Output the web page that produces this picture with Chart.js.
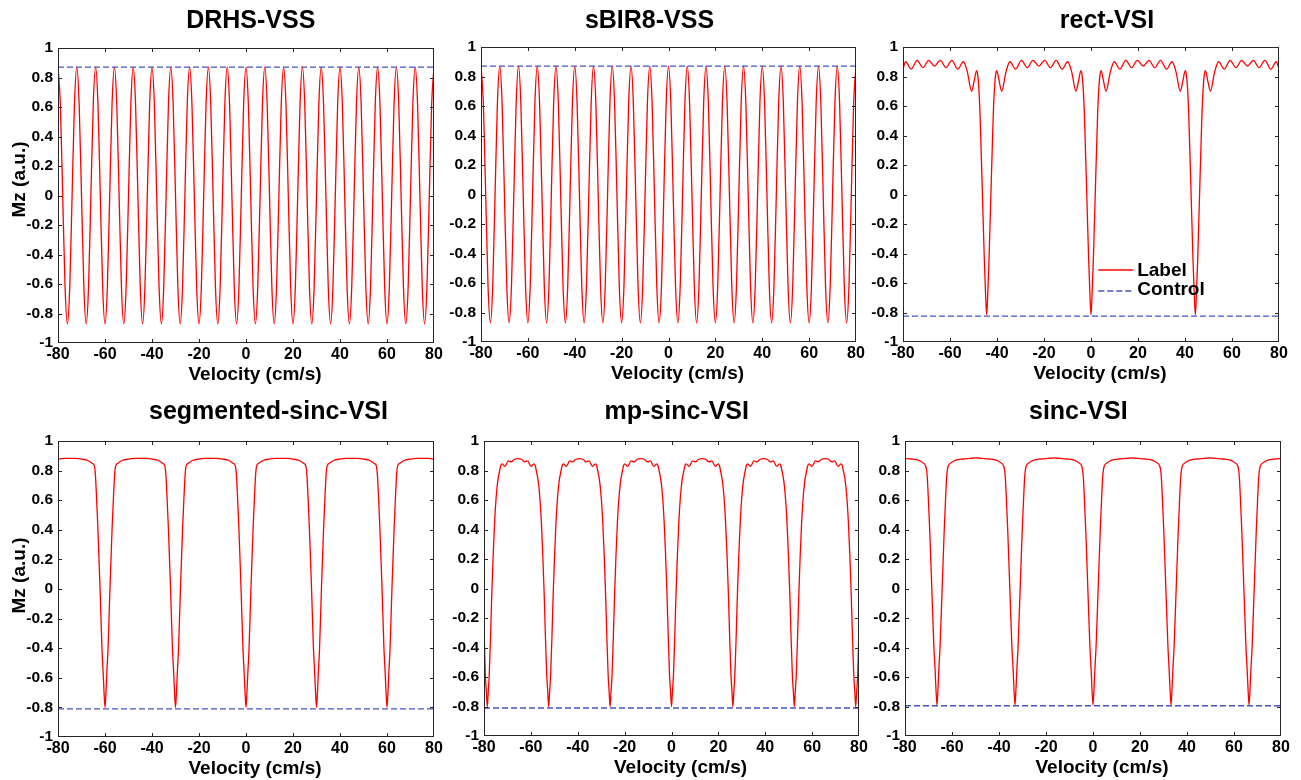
<!DOCTYPE html>
<html><head><meta charset="utf-8">
<script src="https://cdn.jsdelivr.net/npm/chart.js@4.4.1/dist/chart.umd.min.js"></script>
<style>
html,body{margin:0;padding:0;background:#fff;width:1301px;height:780px;overflow:hidden;position:relative;}
canvas{position:absolute;}
</style></head><body>
<canvas id="c1"></canvas><canvas id="c2"></canvas><canvas id="c3"></canvas>
<canvas id="c4"></canvas><canvas id="c5"></canvas><canvas id="c6"></canvas>
<script>
// ---------------- text ----------------
const panelTitles = ['DRHS-VSS', 'sBIR8-VSS', 'rect-VSI', 'segmented-sinc-VSI', 'mp-sinc-VSI', 'sinc-VSI'];
const xAxisTitle = 'Velocity (cm/s)';
const yAxisTitle = 'Mz (a.u.)';
const seriesNames = ['Label', 'Control'];
const xTickValues = [-80, -60, -40, -20, 0, 20, 40, 60, 80];
const yTickValues = [-1, -0.8, -0.6, -0.4, -0.2, 0, 0.2, 0.4, 0.6, 0.8, 1];

// ---------------- data ----------------
const controlVelocity = [-80, 80];

const vssVelocity = [
-80,-79,-78,-77,-76,-75,-74,-73,-72,-71,-70,-69,-68,-67,-66,-65,-64,-63,-62,-61,
-60,-59,-58,-57,-56,-55,-54,-53,-52,-51,-50,-49,-48,-47,-46,-45,-44,-43,-42,-41,
-40,-39,-38,-37,-36,-35,-34,-33,-32,-31,-30,-29,-28,-27,-26,-25,-24,-23,-22,-21,
-20,-19,-18,-17,-16,-15,-14,-13,-12,-11,-10,-9,-8,-7,-6,-5,-4,-3,-2,-1,
0,1,2,3,4,5,6,7,8,9,10,11,12,13,14,15,16,17,18,19,
20,21,22,23,24,25,26,27,28,29,30,31,32,33,34,35,36,37,38,39,
40,41,42,43,44,45,46,47,48,49,50,51,52,53,54,55,56,57,58,59,
60,61,62,63,64,65,66,67,68,69,70,71,72,73,74,75,76,77,78,79,
80];

const drhsLabel = [
0.87,0.62,0,-0.62,-0.87,-0.62,0,0.62,0.87,0.62,0,-0.62,-0.87,-0.62,0,0.62,
0.87,0.62,0,-0.62,-0.87,-0.62,0,0.62,0.87,0.62,0,-0.62,-0.87,-0.62,0,0.62,
0.87,0.62,0,-0.62,-0.87,-0.62,0,0.62,0.87,0.62,0,-0.62,-0.87,-0.62,0,0.62,
0.87,0.62,0,-0.62,-0.87,-0.62,0,0.62,0.87,0.62,0,-0.62,-0.87,-0.62,0,0.62,
0.87,0.62,0,-0.62,-0.87,-0.62,0,0.62,0.87,0.62,0,-0.62,-0.87,-0.62,0,0.62,
0.87,0.62,0,-0.62,-0.87,-0.62,0,0.62,0.87,0.62,0,-0.62,-0.87,-0.62,0,0.62,
0.87,0.62,0,-0.62,-0.87,-0.62,0,0.62,0.87,0.62,0,-0.62,-0.87,-0.62,0,0.62,
0.87,0.62,0,-0.62,-0.87,-0.62,0,0.62,0.87,0.62,0,-0.62,-0.87,-0.62,0,0.62,
0.87,0.62,0,-0.62,-0.87,-0.62,0,0.62,0.87,0.62,0,-0.62,-0.87,-0.62,0,0.62,
0.87,0.62,0,-0.62,-0.87,-0.62,0,0.62,0.87,0.62,0,-0.62,-0.87,-0.62,0,0.62,
0.87];
const drhsControl = [0.87, 0.87];

const sbirLabel = [
0.87,0.62,0,-0.62,-0.87,-0.62,0,0.62,0.87,0.62,0,-0.62,-0.87,-0.62,0,0.62,
0.87,0.62,0,-0.62,-0.87,-0.62,0,0.62,0.87,0.62,0,-0.62,-0.87,-0.62,0,0.62,
0.87,0.62,0,-0.62,-0.87,-0.62,0,0.62,0.87,0.62,0,-0.62,-0.87,-0.62,0,0.62,
0.87,0.62,0,-0.62,-0.87,-0.62,0,0.62,0.87,0.62,0,-0.62,-0.87,-0.62,0,0.62,
0.87,0.62,0,-0.62,-0.87,-0.62,0,0.62,0.87,0.62,0,-0.62,-0.87,-0.62,0,0.62,
0.87,0.62,0,-0.62,-0.87,-0.62,0,0.62,0.87,0.62,0,-0.62,-0.87,-0.62,0,0.62,
0.87,0.62,0,-0.62,-0.87,-0.62,0,0.62,0.87,0.62,0,-0.62,-0.87,-0.62,0,0.62,
0.87,0.62,0,-0.62,-0.87,-0.62,0,0.62,0.87,0.62,0,-0.62,-0.87,-0.62,0,0.62,
0.87,0.62,0,-0.62,-0.87,-0.62,0,0.62,0.87,0.62,0,-0.62,-0.87,-0.62,0,0.62,
0.87,0.62,0,-0.62,-0.87,-0.62,0,0.62,0.87,0.62,0,-0.62,-0.87,-0.62,0,0.62,
0.87];
const sbirControl = [0.87, 0.87];

const rectVelocity = [
-80,-78.9,-76.5,-74.0,-71.5,-69.1,-66.6,
-64.1,-61.7,-59.2,-56.7,-54.3,-52.6,-50.8,-49.7,-48.7,-48.3,-47.8,-47.3,-46.9,-46.2,-45.4,-44.9,-44.4,
-43.9,-43.4,-42.6,-41.9,-41.5,-41.0,-40.5,-40.1,-39.1,-38.0,-36.2,-34.5,-32.1,-29.6,-27.1,-24.7,-22.2,
-19.7,-17.3,-14.8,-12.3,-9.9,-8.2,-6.4,-5.3,-4.3,-3.9,-3.4,-2.9,-2.5,-1.8,-1.0,-0.5,0,
0.5,1.0,1.8,2.5,2.9,3.4,3.9,4.3,5.3,6.4,8.2,9.9,12.3,14.8,17.3,19.7,22.2,
24.7,27.1,29.6,32.1,34.5,36.2,38.0,39.1,40.1,40.5,41.0,41.5,41.9,42.6,43.4,43.9,44.4,
44.9,45.4,46.2,46.9,47.3,47.8,48.3,48.7,49.7,50.8,52.6,54.3,56.7,59.2,61.7,64.1,66.6,
69.1,71.5,74.0,76.5,78.9,80];
const rectLabel = [
0.85,0.90,0.85,0.91,0.86,0.91,0.87,
0.91,0.86,0.91,0.85,0.90,0.83,0.70,0.77,0.84,0.82,0.74,0.58,0.38,0.00,-0.44,-0.66,-0.815,
-0.66,-0.44,0.00,0.38,0.58,0.74,0.82,0.84,0.77,0.70,0.83,0.90,0.85,0.91,0.86,0.91,0.87,
0.91,0.86,0.91,0.85,0.90,0.83,0.70,0.77,0.84,0.82,0.74,0.58,0.38,0.00,-0.44,-0.66,-0.815,
-0.66,-0.44,0.00,0.38,0.58,0.74,0.82,0.84,0.77,0.70,0.83,0.90,0.85,0.91,0.86,0.91,0.87,
0.91,0.86,0.91,0.85,0.90,0.83,0.70,0.77,0.84,0.82,0.74,0.58,0.38,0.00,-0.44,-0.66,-0.815,
-0.66,-0.44,0.00,0.38,0.58,0.74,0.82,0.84,0.77,0.70,0.83,0.90,0.85,0.91,0.86,0.91,0.87,
0.91,0.86,0.91,0.85,0.90,0.85];
const rectControl = [-0.825, -0.825];

const segVelocity = [
-80,-77.5,-75,-72.5,-70,-67.5,-65.5,-64.6,-64.3,-64.0,-63.6,-63.0,-62.1,-61.3,-60.8,-60.4,-60,
-59.6,-59.2,-58.7,-57.9,-57.0,-56.4,-56.0,-55.7,-55.4,-54.5,-52.5,-50.0,-47.5,-45,
-42.5,-40,-37.5,-35.5,-34.6,-34.3,-34.0,-33.6,-33.0,-32.1,-31.3,-30.8,-30.4,-30,
-29.6,-29.2,-28.7,-27.9,-27.0,-26.4,-26.0,-25.7,-25.4,-24.5,-22.5,-20,-17.5,-15,
-12.5,-10,-7.5,-5.5,-4.6,-4.3,-4.0,-3.6,-3.0,-2.1,-1.3,-0.8,-0.4,0,
0.4,0.8,1.3,2.1,3.0,3.6,4.0,4.3,4.6,5.5,7.5,10,12.5,15,
17.5,20,22.5,24.5,25.4,25.7,26.0,26.4,27.0,27.9,28.7,29.2,29.6,30,
30.4,30.8,31.3,32.1,33.0,33.6,34.0,34.3,34.6,35.5,37.5,40,42.5,45,
47.5,50,52.5,54.5,55.4,55.7,56.0,56.4,57.0,57.9,58.7,59.2,59.6,60,
60.4,60.8,61.3,62.1,63.0,63.6,64.0,64.3,64.6,65.5,67.5,70,72.5,75,77.5,80];
const segLabel = [
0.878,0.882,0.883,0.882,0.878,0.87,0.85,0.835,0.81,0.75,0.62,0.40,0.00,-0.40,-0.56,-0.70,-0.80,
-0.70,-0.56,-0.40,0.00,0.40,0.62,0.75,0.81,0.835,0.85,0.87,0.878,0.882,0.883,
0.882,0.878,0.87,0.85,0.835,0.81,0.75,0.62,0.40,0.00,-0.40,-0.56,-0.70,-0.80,
-0.70,-0.56,-0.40,0.00,0.40,0.62,0.75,0.81,0.835,0.85,0.87,0.878,0.882,0.883,
0.882,0.878,0.87,0.85,0.835,0.81,0.75,0.62,0.40,0.00,-0.40,-0.56,-0.70,-0.80,
-0.70,-0.56,-0.40,0.00,0.40,0.62,0.75,0.81,0.835,0.85,0.87,0.878,0.882,0.883,
0.882,0.878,0.87,0.85,0.835,0.81,0.75,0.62,0.40,0.00,-0.40,-0.56,-0.70,-0.80,
-0.70,-0.56,-0.40,0.00,0.40,0.62,0.75,0.81,0.835,0.85,0.87,0.878,0.882,0.883,
0.882,0.878,0.87,0.85,0.835,0.81,0.75,0.62,0.40,0.00,-0.40,-0.56,-0.70,-0.80,
-0.70,-0.56,-0.40,0.00,0.40,0.62,0.75,0.81,0.835,0.85,0.87,0.878,0.882,0.883,0.882,0.878];
const segControl = [-0.81, -0.81];

const mpVelocity = [
-80,-79.45,-79.0,-78.6,
-78.2,-77.75,-77.2,-76.7,-76.1,-75.5,-74.9,-74.2,-73.3,-72.8,-72.3,-71.1,-69.6,-68.4,-67.0,-65.5,
-64.0,-62.6,-61.4,-59.9,-58.7,-58.2,-57.7,-56.8,-56.1,-55.5,-54.9,-54.3,-53.8,-53.25,-52.8,-52.4,
-52.0,-51.55,-51.0,-50.5,-49.9,-49.3,-48.7,-48.0,-47.1,-46.6,-46.1,-44.9,-43.4,-42.2,-40.8,-39.3,
-37.8,-36.4,-35.2,-33.7,-32.5,-32.0,-31.5,-30.6,-29.9,-29.3,-28.7,-28.1,-27.6,-27.05,-26.6,-26.2,
-25.8,-25.35,-24.8,-24.3,-23.7,-23.1,-22.5,-21.8,-20.9,-20.4,-19.9,-18.7,-17.2,-16.0,-14.6,-13.1,
-11.6,-10.2,-9.0,-7.5,-6.3,-5.8,-5.3,-4.4,-3.7,-3.1,-2.5,-1.9,-1.4,-0.85,-0.4,0,
0.4,0.85,1.4,1.9,2.5,3.1,3.7,4.4,5.3,5.8,6.3,7.5,9.0,10.2,11.6,13.1,
14.6,16.0,17.2,18.7,19.9,20.4,20.9,21.8,22.5,23.1,23.7,24.3,24.8,25.35,25.8,26.2,
26.6,27.05,27.6,28.1,28.7,29.3,29.9,30.6,31.5,32.0,32.5,33.7,35.2,36.4,37.8,39.3,
40.8,42.2,43.4,44.9,46.1,46.6,47.1,48.0,48.7,49.3,49.9,50.5,51.0,51.55,52.0,52.4,
52.8,53.25,53.8,54.3,54.9,55.5,56.1,56.8,57.7,58.2,58.7,59.9,61.4,62.6,64.0,65.5,
67.0,68.4,69.6,71.1,72.3,72.8,73.3,74.2,74.9,75.5,76.1,76.7,77.2,77.75,78.2,78.6,
79.0,79.45,80];
const mpLabel = [
-0.25,-0.58,-0.70,-0.80,
-0.70,-0.58,-0.32,-0.05,0.22,0.44,0.60,0.72,0.80,0.835,0.845,0.828,0.865,0.858,0.876,0.88,
0.876,0.858,0.865,0.828,0.845,0.835,0.80,0.72,0.60,0.44,0.22,-0.05,-0.32,-0.58,-0.70,-0.80,
-0.70,-0.58,-0.32,-0.05,0.22,0.44,0.60,0.72,0.80,0.835,0.845,0.828,0.865,0.858,0.876,0.88,
0.876,0.858,0.865,0.828,0.845,0.835,0.80,0.72,0.60,0.44,0.22,-0.05,-0.32,-0.58,-0.70,-0.80,
-0.70,-0.58,-0.32,-0.05,0.22,0.44,0.60,0.72,0.80,0.835,0.845,0.828,0.865,0.858,0.876,0.88,
0.876,0.858,0.865,0.828,0.845,0.835,0.80,0.72,0.60,0.44,0.22,-0.05,-0.32,-0.58,-0.70,-0.80,
-0.70,-0.58,-0.32,-0.05,0.22,0.44,0.60,0.72,0.80,0.835,0.845,0.828,0.865,0.858,0.876,0.88,
0.876,0.858,0.865,0.828,0.845,0.835,0.80,0.72,0.60,0.44,0.22,-0.05,-0.32,-0.58,-0.70,-0.80,
-0.70,-0.58,-0.32,-0.05,0.22,0.44,0.60,0.72,0.80,0.835,0.845,0.828,0.865,0.858,0.876,0.88,
0.876,0.858,0.865,0.828,0.845,0.835,0.80,0.72,0.60,0.44,0.22,-0.05,-0.32,-0.58,-0.70,-0.80,
-0.70,-0.58,-0.32,-0.05,0.22,0.44,0.60,0.72,0.80,0.835,0.845,0.828,0.865,0.858,0.876,0.88,
0.876,0.858,0.865,0.828,0.845,0.835,0.80,0.72,0.60,0.44,0.22,-0.05,-0.32,-0.58,-0.70,-0.80,
-0.70,-0.58,-0.25];
const mpControl = [-0.81, -0.81];

const sincVelocity = [
-80,-77.4,-74.4,-72.2,-71.2,-70.8,-70.5,-70.1,-69.5,-68.6,-67.7,-67.2,-66.8,-66.4,
-66.0,-65.6,-65.1,-64.2,-63.3,-62.7,-62.3,-62.0,-61.6,-60.6,-58.4,-55.4,-52.4,-49.8,
-47.2,-44.2,-41.2,-39.0,-38.0,-37.6,-37.3,-36.9,-36.3,-35.4,-34.5,-34.0,-33.6,-33.2,
-32.8,-32.4,-31.9,-31.0,-30.1,-29.5,-29.1,-28.8,-28.4,-27.4,-25.2,-22.2,-19.2,-16.6,
-14.0,-11.0,-8.0,-5.8,-4.8,-4.4,-4.1,-3.7,-3.1,-2.2,-1.3,-0.8,-0.4,0,
0.4,0.8,1.3,2.2,3.1,3.7,4.1,4.4,4.8,5.8,8.0,11.0,14.0,16.6,
19.2,22.2,25.2,27.4,28.4,28.8,29.1,29.5,30.1,31.0,31.9,32.4,32.8,33.2,
33.6,34.0,34.5,35.4,36.3,36.9,37.3,37.6,38.0,39.0,41.2,44.2,47.2,49.8,
52.4,55.4,58.4,60.6,61.6,62.0,62.3,62.7,63.3,64.2,65.1,65.6,66.0,66.4,
66.8,67.2,67.7,68.6,69.5,70.1,70.5,70.8,71.2,72.2,74.4,77.4,80];
const sincLabel = [
0.881,0.878,0.87,0.85,0.83,0.80,0.75,0.62,0.40,0.00,-0.40,-0.55,-0.69,-0.79,
-0.69,-0.55,-0.40,0.00,0.40,0.62,0.75,0.80,0.83,0.85,0.87,0.878,0.882,0.885,
0.882,0.878,0.87,0.85,0.83,0.80,0.75,0.62,0.40,0.00,-0.40,-0.55,-0.69,-0.79,
-0.69,-0.55,-0.40,0.00,0.40,0.62,0.75,0.80,0.83,0.85,0.87,0.878,0.882,0.885,
0.882,0.878,0.87,0.85,0.83,0.80,0.75,0.62,0.40,0.00,-0.40,-0.55,-0.69,-0.79,
-0.69,-0.55,-0.40,0.00,0.40,0.62,0.75,0.80,0.83,0.85,0.87,0.878,0.882,0.885,
0.882,0.878,0.87,0.85,0.83,0.80,0.75,0.62,0.40,0.00,-0.40,-0.55,-0.69,-0.79,
-0.69,-0.55,-0.40,0.00,0.40,0.62,0.75,0.80,0.83,0.85,0.87,0.878,0.882,0.885,
0.882,0.878,0.87,0.85,0.83,0.80,0.75,0.62,0.40,0.00,-0.40,-0.55,-0.69,-0.79,
-0.69,-0.55,-0.40,0.00,0.40,0.62,0.75,0.80,0.83,0.85,0.87,0.878,0.881];
const sincControl = [-0.795, -0.795];

// ---------------- layout & style ----------------
const FONT = "'Liberation Sans', Arial, Helvetica, sans-serif";
const RED = '#ff0000';
const BLUE = '#4354c4';
const M = {l: 60, t: 48, r: 20, b: 48};   // canvas margins around plot area
const YW = 40, XH = 30;

const panels = [
  {id: 'c1', area: [58, 48, 434, 343], titleXY: [250.8, 28.3], yTitleXY: [20, 179.5], vel: vssVelocity, lab: drhsLabel, ctl: drhsControl},
  {id: 'c2', area: [481, 47, 856, 342], titleXY: [649.5, 28.3], yTitleXY: null, vel: vssVelocity, lab: sbirLabel, ctl: sbirControl},
  {id: 'c3', area: [903, 47, 1279, 342], titleXY: [1107, 28.3], yTitleXY: null, vel: rectVelocity, lab: rectLabel, ctl: rectControl,
    legend: {x0: 1098.3, x1: 1133.3, rows: [270, 291], textX: 1137.2, base: [275.5, 295.2]}},
  {id: 'c4', area: [58, 441, 434, 737], titleXY: [268.5, 419.3], yTitleXY: [20, 575.5], vel: segVelocity, lab: segLabel, ctl: segControl},
  {id: 'c5', area: [484, 441, 859, 736], titleXY: [676.7, 419.3], yTitleXY: null, vel: mpVelocity, lab: mpLabel, ctl: mpControl},
  {id: 'c6', area: [905, 441, 1281, 736], titleXY: [1078.3, 419.3], yTitleXY: null, vel: sincVelocity, lab: sincLabel, ctl: sincControl}
];

const fmt = v => String(Math.round(v * 10) / 10);

const matlabAxes = {
  id: 'matlabAxes',
  afterDatasetsDraw(chart, args, o) {
    const {ctx, chartArea: a} = chart;
    const xs = chart.scales.x, ys = chart.scales.y;
    const ox = o.ox, oy = o.oy;
    ctx.save();
    // box
    ctx.strokeStyle = '#262626';
    ctx.lineWidth = 1;
    ctx.strokeRect(a.left + 0.5, a.top + 0.5, a.right - a.left - 1, a.bottom - a.top - 1);
    // inward ticks on all four sides
    const TL = 4;
    ctx.beginPath();
    xs.ticks.forEach(t => {
      const p = Math.round(xs.getPixelForValue(t.value)) + 0.5;
      if (p < a.left + 2 || p > a.right - 2) return;
      ctx.moveTo(p, a.bottom); ctx.lineTo(p, a.bottom - TL);
      ctx.moveTo(p, a.top); ctx.lineTo(p, a.top + TL);
    });
    ys.ticks.forEach(t => {
      const p = Math.round(ys.getPixelForValue(t.value)) + 0.5;
      if (p < a.top + 2 || p > a.bottom - 2) return;
      ctx.moveTo(a.left, p); ctx.lineTo(a.left + TL, p);
      ctx.moveTo(a.right, p); ctx.lineTo(a.right - TL, p);
    });
    ctx.stroke();
    // titles
    ctx.fillStyle = '#000';
    ctx.textAlign = 'center';
    ctx.textBaseline = 'alphabetic';
    ctx.font = 'bold 25px ' + FONT;
    ctx.fillText(o.title, o.titleXY[0] - ox, o.titleXY[1] - oy);
    ctx.font = 'bold 19px ' + FONT;
    ctx.fillText(o.xTitle, (a.left + a.right) / 2 + 9, a.bottom + 36.5);
    if (o.yTitleXY) {
      ctx.save();
      ctx.translate(o.yTitleXY[0] - ox, o.yTitleXY[1] - oy);
      ctx.rotate(-Math.PI / 2);
      ctx.textBaseline = 'middle';
      ctx.fillText(o.yTitle, 0, 0);
      ctx.restore();
    }
    // legend
    if (o.legend) {
      const L = o.legend;
      chart.data.datasets.forEach((ds, i) => {
        ctx.save();
        ctx.strokeStyle = ds.borderColor;
        ctx.lineWidth = ds.borderWidth;
        ctx.setLineDash(ds.borderDash || []);
        ctx.beginPath();
        ctx.moveTo(L.x0 - ox, L.rows[i] - oy);
        ctx.lineTo(L.x1 - ox, L.rows[i] - oy);
        ctx.stroke();
        ctx.restore();
        ctx.fillStyle = '#000';
        ctx.textAlign = 'left';
        ctx.textBaseline = 'alphabetic';
        ctx.font = 'bold 19px ' + FONT;
        ctx.fillText(ds.label, L.textX - ox, L.base[i] - oy);
      });
    }
    ctx.restore();
  }
};

panels.forEach((p, k) => {
  const [L, T, R, B] = p.area;
  const cv = document.getElementById(p.id);
  const W = (R - L) + M.l + M.r, H = (B - T) + M.t + M.b;
  const ox = L - M.l, oy = T - M.t;
  cv.width = W; cv.height = H;
  cv.style.left = ox + 'px'; cv.style.top = oy + 'px';
  cv.style.width = W + 'px'; cv.style.height = H + 'px';

  new Chart(cv, {
    type: 'line',
    data: {
      datasets: [
        {label: seriesNames[0], data: p.vel.map((v, i) => ({x: v, y: p.lab[i]})),
         borderColor: RED, borderWidth: 1.3, pointRadius: 0, fill: false,
         cubicInterpolationMode: 'monotone', order: 1},
        {label: seriesNames[1], data: controlVelocity.map((v, i) => ({x: v, y: p.ctl[i]})),
         borderColor: BLUE, borderWidth: 1.3, borderDash: [6, 3], pointRadius: 0, fill: false, order: 0}
      ]
    },
    options: {
      responsive: false, animation: false, events: [],
      layout: {padding: {left: M.l - YW, top: M.t, right: M.r, bottom: M.b - XH}},
      plugins: {
        legend: {display: false}, tooltip: {enabled: false}, title: {display: false},
        matlabAxes: {ox, oy, title: panelTitles[k], titleXY: p.titleXY, yTitleXY: p.yTitleXY,
                     xTitle: xAxisTitle, yTitle: yAxisTitle, legend: p.legend || null}
      },
      scales: {
        x: {
          type: 'linear', min: xTickValues[0], max: xTickValues[xTickValues.length - 1],
          afterFit(s) { s.height = XH; },
          afterBuildTicks(s) { s.ticks = xTickValues.map(v => ({value: v})); },
          grid: {display: false, drawTicks: false}, border: {display: false},
          ticks: {autoSkip: false, maxRotation: 0, padding: 2, color: '#000',
                  font: {family: FONT, weight: 'bold', size: 16}, callback: fmt}
        },
        y: {
          type: 'linear', min: yTickValues[0], max: yTickValues[yTickValues.length - 1],
          afterFit(s) { s.width = YW; },
          afterBuildTicks(s) { s.ticks = yTickValues.map(v => ({value: v})); },
          grid: {display: false, drawTicks: false}, border: {display: false},
          ticks: {autoSkip: false, padding: 5, color: '#000',
                  font: {family: FONT, weight: 'bold', size: 15.5}, callback: fmt}
        }
      }
    },
    plugins: [matlabAxes]
  });
});
</script>
</body></html>
